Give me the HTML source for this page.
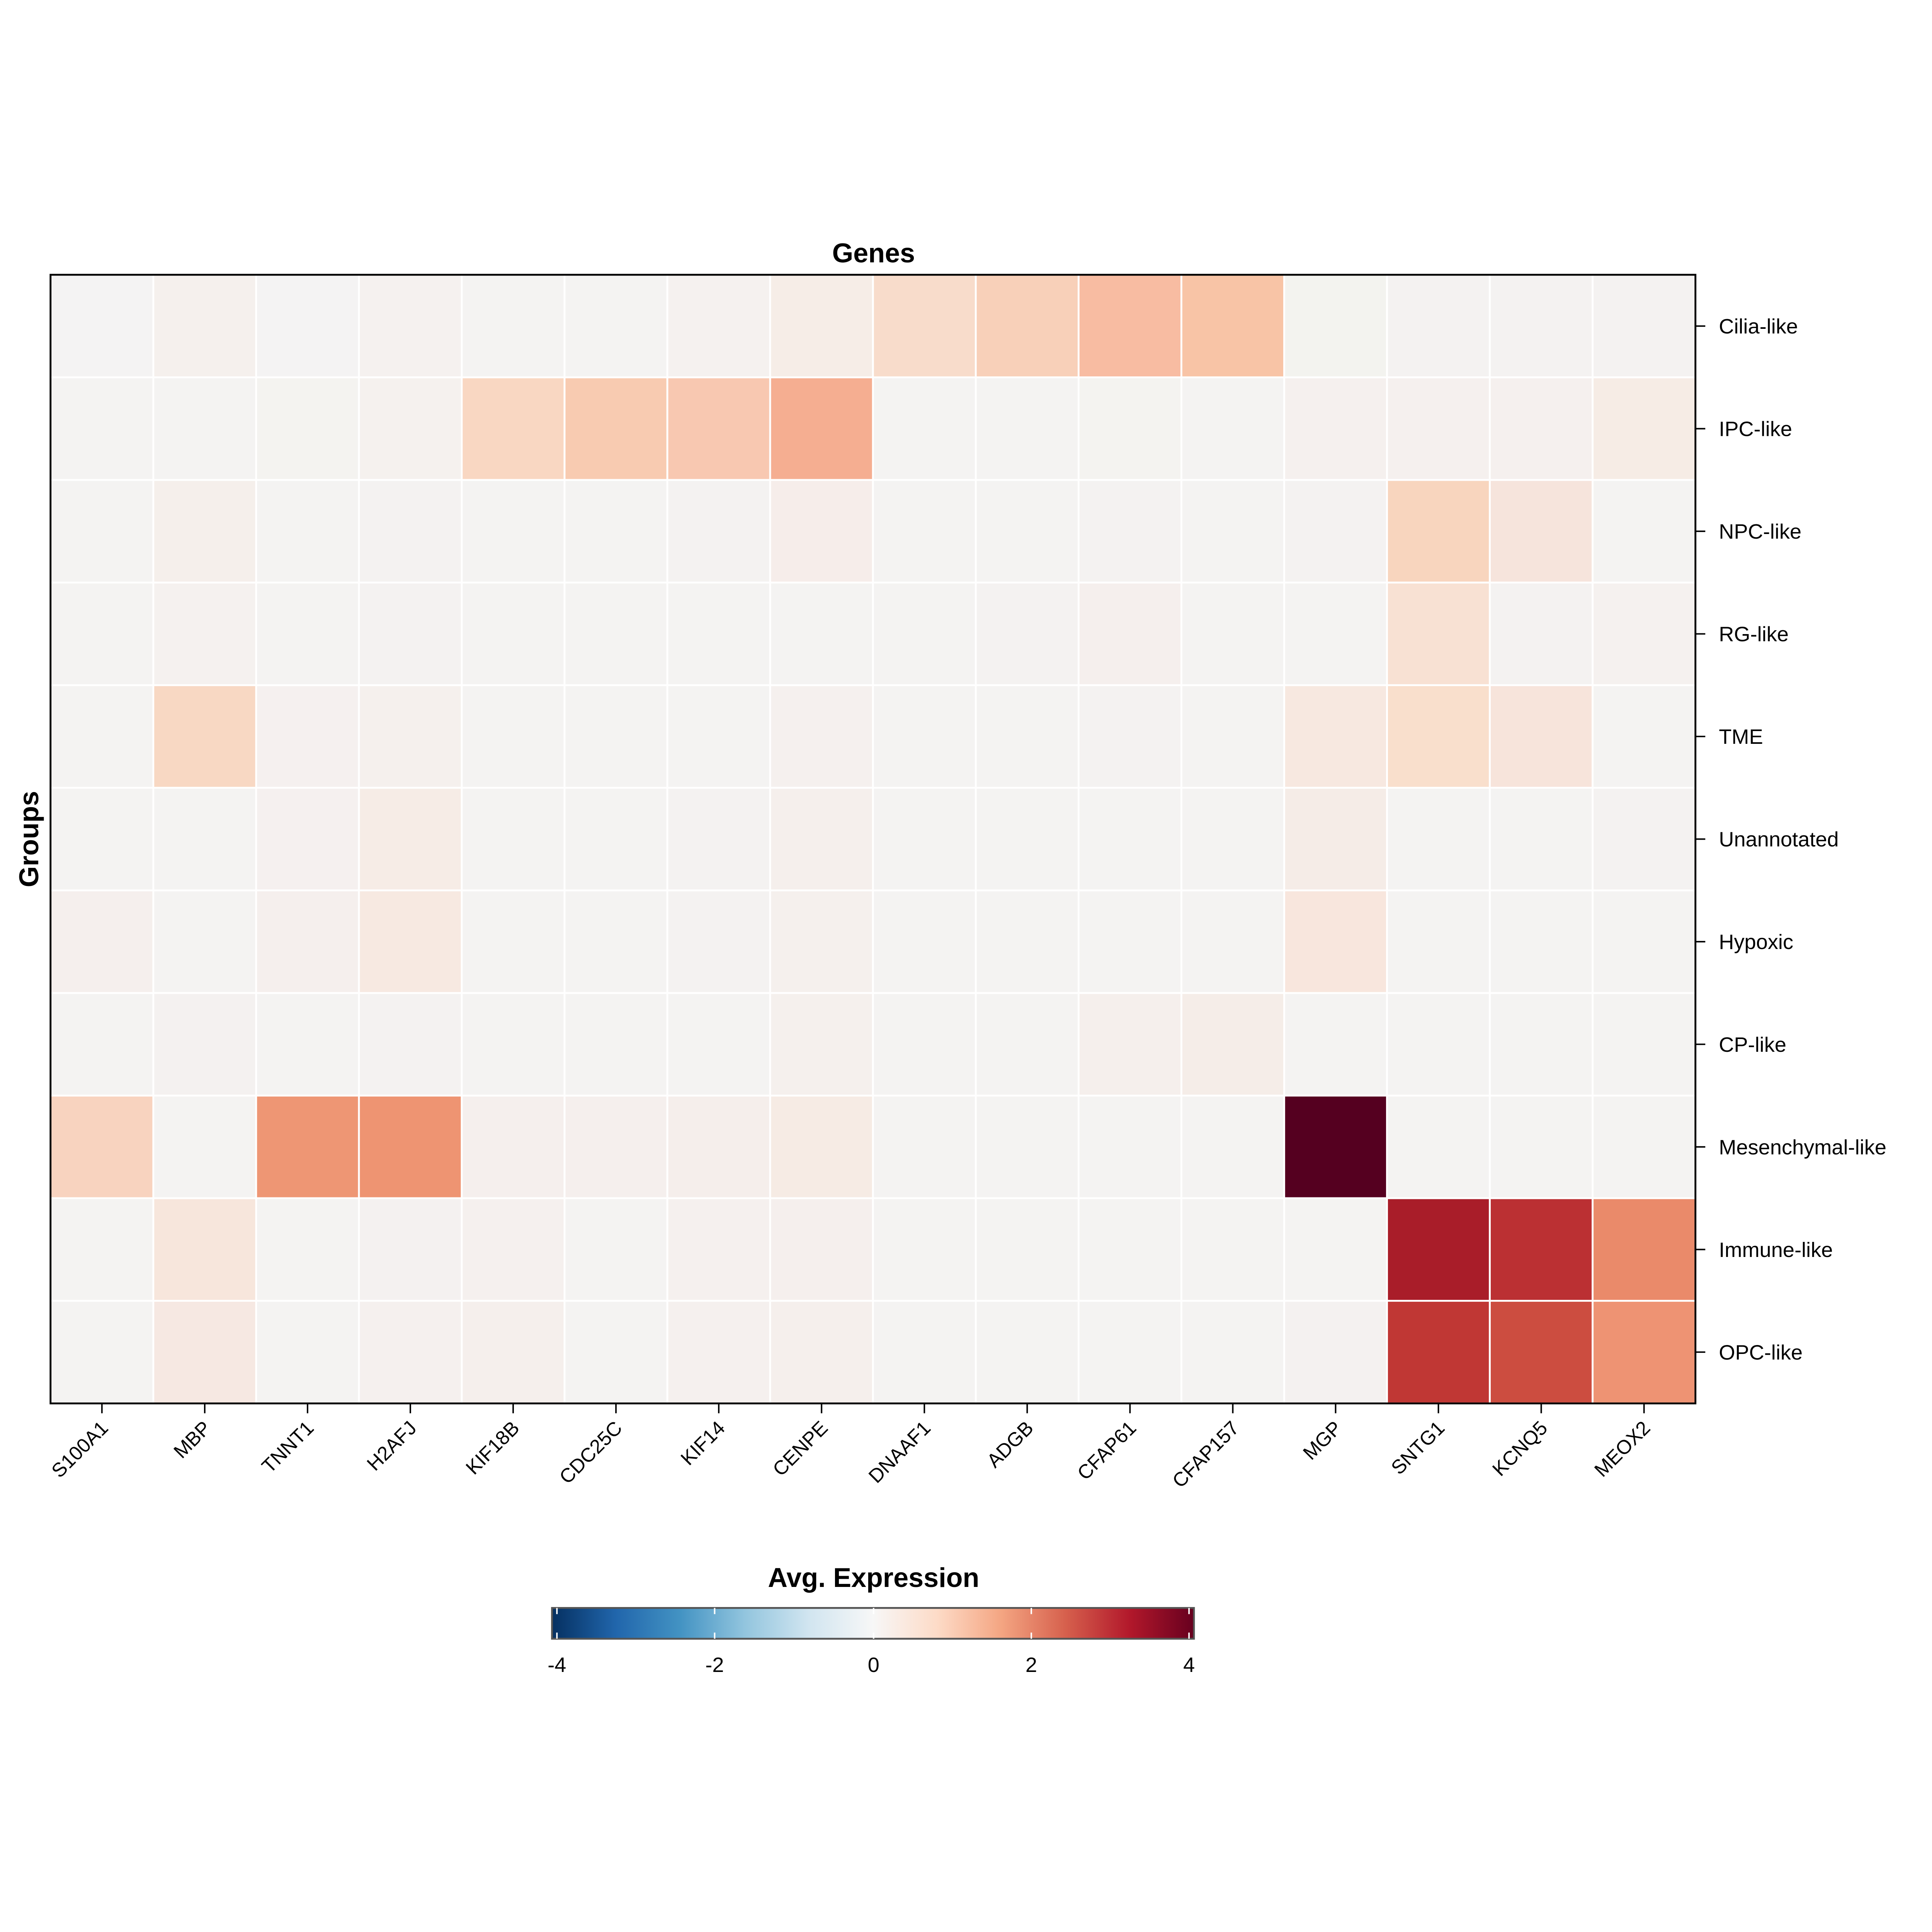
<!DOCTYPE html>
<html><head><meta charset="utf-8"><style>html,body{margin:0;padding:0;background:#fff;overflow:hidden;width:100%;height:100%}svg{display:block;width:100vw;height:100vh}</style></head><body>
<svg viewBox="0 0 1568 1568" preserveAspectRatio="xMidYMid meet" xmlns="http://www.w3.org/2000/svg" font-family="Liberation Sans, sans-serif">
<defs>
<linearGradient id="cb" x1="0" x2="1" y1="0" y2="0">
<stop offset="0" stop-color="#053061"/><stop offset="0.1" stop-color="#2166ac"/><stop offset="0.2" stop-color="#4393c3"/><stop offset="0.3" stop-color="#92c5de"/><stop offset="0.4" stop-color="#d1e5f0"/><stop offset="0.5" stop-color="#f7f7f7"/><stop offset="0.6" stop-color="#fddbc7"/><stop offset="0.7" stop-color="#f4a582"/><stop offset="0.8" stop-color="#d6604d"/><stop offset="0.9" stop-color="#b2182b"/><stop offset="1" stop-color="#67001f"/>
</linearGradient>
</defs>
<rect width="1568" height="1568" fill="#fff"/>
<g id="cells"></g>
<script>
var B="#f4f3f2";
var rows=[
["#f4f3f3","#f5f0ed","#f4f3f3","#f5f1ef","#f4f3f2","#f4f3f2","#f5f1ef","#f6ede7","#f8dccb","#f8d0b9","#f8bca2","#f8c4a6","#f3f3ef","#f4f2f1","#f4f2f1","#f4f2f1"],
[B,B,"#f4f3f0","#f5f1ee","#f9d7c2","#f8cbb1","#f8c8b1","#f5ae91",B,B,"#f4f3f0",B,"#f5f0ee","#f5f0ee","#f5f0ee","#f6ece5"],
[B,"#f5efeb",B,"#f4f2f1",B,B,"#f4f2f1","#f6edea",B,B,"#f4f2f1",B,"#f4f2f1","#f8d5be","#f6e4dc",B],
[B,"#f5f1ef",B,"#f4f2f1",B,B,B,B,B,"#f4f2f1","#f5efed",B,B,"#f8e1d3","#f4f2f1","#f5f1ef"],
[B,"#f8d8c3","#f5f0ef","#f5f0ed",B,B,B,"#f5f0ee",B,B,"#f4f2f1",B,"#f7e8e0","#f9dfcc","#f7e4db",B],
[B,B,"#f5f0ef","#f6ece6",B,B,"#f4f2f1","#f5efec",B,B,B,B,"#f5ece7",B,B,"#f4f2f1"],
["#f5efed",B,"#f5efed","#f7e9e1",B,B,"#f4f2f1","#f5f0ed",B,B,B,B,"#f8e6dd",B,B,B],
[B,"#f4f1f0",B,"#f4f2f1",B,B,B,"#f5f0ed",B,B,"#f5efec","#f5ede8",B,B,B,B],
["#f8d3bf",B,"#ee9674","#ee9472","#f5efed","#f5efed","#f5eeeb","#f6ebe4",B,B,B,B,"#550020",B,B,B],
[B,"#f7e6dc",B,"#f4f1f0","#f5f0ee",B,"#f5f0ee","#f5efed",B,B,B,B,B,"#a91d29","#bb3033","#ea8a6a"],
[B,"#f6e8e2",B,"#f5f0ee","#f5efec",B,"#f5f0ee","#f5efec",B,B,B,B,"#f4f1f0","#c03734","#cc4d40","#ee9373"]];
var g=document.getElementById("cells"),ns="http://www.w3.org/2000/svg";
var x0=41,y0=223,cw=(1376-41)/16,ch=(1139-223)/11;
for(var r=0;r<11;r++)for(var c=0;c<16;c++){var e=document.createElementNS(ns,"rect");e.setAttribute("x",x0+c*cw);e.setAttribute("y",y0+r*ch);e.setAttribute("width",cw);e.setAttribute("height",ch);e.setAttribute("fill",rows[r][c]);e.setAttribute("stroke","#fff");e.setAttribute("stroke-width","1.5");g.appendChild(e);}
var genes=["S100A1","MBP","TNNT1","H2AFJ","KIF18B","CDC25C","KIF14","CENPE","DNAAF1","ADGB","CFAP61","CFAP157","MGP","SNTG1","KCNQ5","MEOX2"];
var groups=["Cilia-like","IPC-like","NPC-like","RG-like","TME","Unannotated","Hypoxic","CP-like","Mesenchymal-like","Immune-like","OPC-like"];
for(var c=0;c<16;c++){var x=x0+(c+0.5)*cw;var l=document.createElementNS(ns,"line");l.setAttribute("x1",x);l.setAttribute("x2",x);l.setAttribute("y1",1139);l.setAttribute("y2",1147);l.setAttribute("stroke","#000");l.setAttribute("stroke-width","1.2");g.appendChild(l);
var t=document.createElementNS(ns,"text");t.setAttribute("transform","translate("+(x+6)+",1160) rotate(-45)");t.setAttribute("text-anchor","end");t.setAttribute("font-size","16");t.textContent=genes[c];g.appendChild(t);}
for(var r=0;r<11;r++){var y=y0+(r+0.5)*ch;var l=document.createElementNS(ns,"line");l.setAttribute("x1",1376);l.setAttribute("x2",1384);l.setAttribute("y1",y);l.setAttribute("y2",y);l.setAttribute("stroke","#000");l.setAttribute("stroke-width","1.2");g.appendChild(l);
var t=document.createElementNS(ns,"text");t.setAttribute("x",1395);t.setAttribute("y",y+6);t.setAttribute("font-size","17");t.textContent=groups[r];g.appendChild(t);}
</script>
<rect x="41" y="223" width="1335" height="916" fill="none" stroke="#000" stroke-width="1.5"/>
<text x="709" y="213" text-anchor="middle" font-size="22" font-weight="bold">Genes</text>
<text transform="translate(31,681) rotate(-90)" text-anchor="middle" font-size="22" font-weight="bold">Groups</text>
<text x="709" y="1288" text-anchor="middle" font-size="22" font-weight="bold">Avg. Expression</text>
<rect x="448" y="1305" width="521" height="25" fill="url(#cb)" stroke="#555" stroke-width="1.5"/>
<g stroke="#fff" stroke-width="1.2">
<line x1="452" x2="452" y1="1305" y2="1310"/><line x1="452" x2="452" y1="1325" y2="1330"/>
<line x1="580" x2="580" y1="1305" y2="1310"/><line x1="580" x2="580" y1="1325" y2="1330"/>
<line x1="709" x2="709" y1="1305" y2="1310"/><line x1="709" x2="709" y1="1325" y2="1330"/>
<line x1="837" x2="837" y1="1305" y2="1310"/><line x1="837" x2="837" y1="1325" y2="1330"/>
<line x1="965" x2="965" y1="1305" y2="1310"/><line x1="965" x2="965" y1="1325" y2="1330"/>
</g>
<g font-size="17" text-anchor="middle">
<text x="452" y="1357">-4</text><text x="580" y="1357">-2</text><text x="709" y="1357">0</text><text x="837" y="1357">2</text><text x="965" y="1357">4</text>
</g>
</svg>
</body></html>
